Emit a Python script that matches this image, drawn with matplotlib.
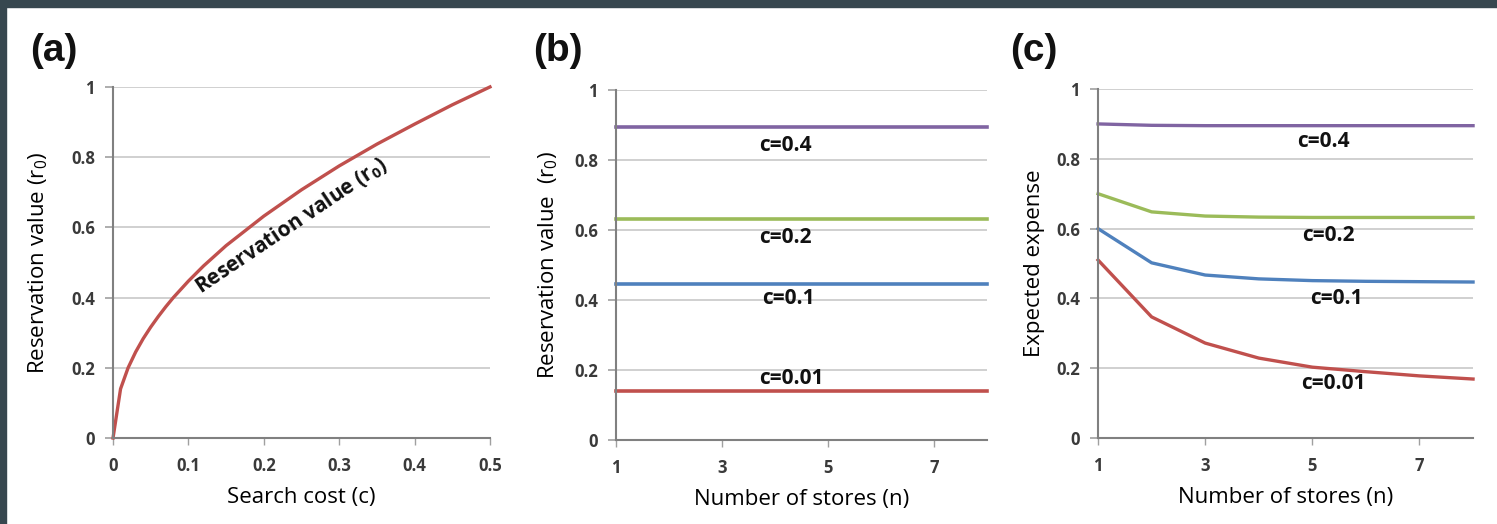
import matplotlib.pyplot as plt
from matplotlib.patches import Rectangle

plt.rcParams["mathtext.fontset"] = "custom"
plt.rcParams["mathtext.rm"] = "Open Sans"
plt.rcParams["mathtext.it"] = "Open Sans"
plt.rcParams["mathtext.bf"] = "Open Sans:bold"

# panel (a): reservation value vs search cost
cost = [0, 0.01, 0.02, 0.03, 0.04, 0.05, 0.06, 0.07, 0.08, 0.1, 0.12, 0.15,
        0.2, 0.25, 0.3, 0.35, 0.4, 0.45, 0.5]
r0 = [0, 0.14, 0.2, 0.245, 0.283, 0.316, 0.346, 0.374, 0.4, 0.447, 0.49, 0.548,
      0.632, 0.707, 0.775, 0.837, 0.894, 0.949, 1.0]

# panels (b) and (c)
stores = [1, 2, 3, 4, 5, 6, 7, 8]
c_labels = ["c=0.4", "c=0.2", "c=0.1", "c=0.01"]
resv = [0.895, 0.632, 0.447, 0.141]
expense = [
    [0.90, 0.896, 0.895, 0.895, 0.895, 0.895, 0.895, 0.895],
    [0.70, 0.648, 0.636, 0.633, 0.632, 0.632, 0.632, 0.632],
    [0.60, 0.502, 0.467, 0.456, 0.451, 0.449, 0.448, 0.447],
    [0.51, 0.347, 0.272, 0.229, 0.203, 0.190, 0.178, 0.169],
]
colors = ["#8064A2", "#9BBB59", "#4F81BD", "#C0504D"]

TICK = dict(family="Open Sans", size=12, weight="bold", color="#3a3a3a")
LAB = dict(family="Open Sans", size=16, color="#000000")
ANN = dict(family="Open Sans", size=15, weight="bold", color="#111111")

fig = plt.figure(figsize=(14.97, 5.24), dpi=100)
fig.patches.append(Rectangle((0, 1 - 7 / 524), 1, 7 / 524, transform=fig.transFigure,
                             color="#37474F", zorder=-1))
fig.patches.append(Rectangle((0, 0), 6 / 1497, 1, transform=fig.transFigure,
                             color="#37474F", zorder=-1))


def style(ax, xticks, xlim):
    ax.set_ylim(0, 1)
    ax.set_xlim(*xlim)
    ax.set_yticks([0, 0.2, 0.4, 0.6, 0.8, 1])
    ax.set_yticklabels(["0", "0.2", "0.4", "0.6", "0.8", "1"], **TICK)
    ax.set_xticks(xticks)
    ax.set_xticklabels([f"{t:g}" for t in xticks], **TICK)
    for s in ["top", "right"]:
        ax.spines[s].set_visible(False)
    for s in ["left", "bottom"]:
        ax.spines[s].set_color("#808080")
        ax.spines[s].set_linewidth(1.5)
    ax.grid(axis="y", color="#C8C8C8", linewidth=1.2)
    ax.set_axisbelow(True)
    ax.tick_params(axis="y", length=6, width=1.2, color="#A0A0A0", pad=7)
    ax.tick_params(axis="x", length=5, width=1.0, color="#A0A0A0", pad=9)


ax_a = fig.add_axes([0.0755, 0.1641, 0.2518, 0.670])
ax_b = fig.add_axes([0.4115, 0.1603, 0.2478, 0.668])
ax_c = fig.add_axes([0.7335, 0.1641, 0.2505, 0.666])

# (a)
style(ax_a, [0, 0.1, 0.2, 0.3, 0.4, 0.5], (0, 0.5))
ax_a.plot(cost, r0, color="#C0504D", lw=2.4, clip_on=False)
ax_a.text(0.237, 0.605, "Reservation value (r$_\\mathbf{0}$)", rotation=34, ha="center",
          va="center", rotation_mode="anchor", **ANN)
ax_a.set_xlabel("Search cost (c)", **LAB)
ax_a.set_ylabel("Reservation value (r$_0$)", **LAB)
ax_a.xaxis.set_label_coords(0.5, -0.14)
ax_a.yaxis.set_label_coords(-0.167, 0.5)

# (b)
style(ax_b, [1, 3, 5, 7], (1, 8))
b_pos = [(4.2, 0.84), (4.2, 0.578), (4.25, 0.405), (4.3, 0.177)]
for v, col, lab, (tx, ty) in zip(resv, colors, c_labels, b_pos):
    ax_b.plot(stores, [v] * len(stores), color=col, lw=2.6, clip_on=False)
    ax_b.text(tx, ty, lab, ha="center", va="center", **ANN)
ax_b.set_xlabel("Number of stores (n)", **LAB)
ax_b.set_ylabel("Reservation value  (r$_0$)", **LAB)
ax_b.xaxis.set_label_coords(0.5, -0.14)
ax_b.yaxis.set_label_coords(-0.151, 0.5)

# (c)
style(ax_c, [1, 3, 5, 7], (1, 8))
c_pos = [(5.2, 0.85), (5.3, 0.58), (5.45, 0.40), (5.4, 0.157)]
for ys, col, lab, (tx, ty) in zip(expense, colors, c_labels, c_pos):
    ax_c.plot(stores, ys, color=col, lw=2.4, clip_on=False)
    ax_c.text(tx, ty, lab, ha="center", va="center", **ANN)
ax_c.set_xlabel("Number of stores (n)", **LAB)
ax_c.set_ylabel("Expected expense", **LAB)
ax_c.xaxis.set_label_coords(0.5, -0.14)
ax_c.yaxis.set_label_coords(-0.141, 0.5)

# panel letters
for x, letter in [(30, "(a)"), (533, "(b)"), (1010, "(c)")]:
    fig.text(x / 1497, 1 - 51 / 524, letter, ha="left", va="center",
             family="Liberation Sans", weight="bold", size=28, color="#111111")

fig.savefig("out.png", dpi=100, facecolor="white")
